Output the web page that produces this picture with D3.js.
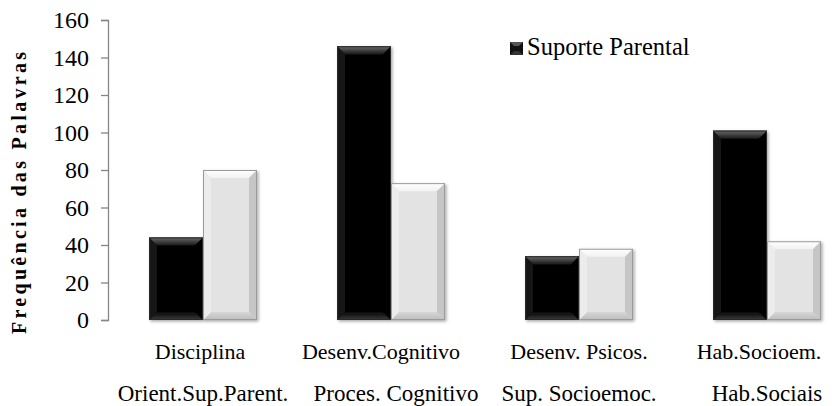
<!DOCTYPE html>
<html>
<head>
<meta charset="utf-8">
<script src="https://cdn.jsdelivr.net/npm/d3@7"></script>
<style>
  html, body { margin: 0; padding: 0; background: #fff; }
  svg { display: block; }
  svg text { font-family: "Liberation Serif", Tinos, "Times New Roman", Times, "Nimbus Roman", "DejaVu Serif", serif; fill: #000; }
</style>
</head>
<body>
<svg id="chart" width="837" height="406"></svg>
<script>
// ---- data ----
const categories = ["Disciplina", "Desenv.Cognitivo", "Desenv. Psicos.", "Hab.Socioem."];
const categoriesLine2 = ["Orient.Sup.Parent.", "Proces. Cognitivo", "Sup. Socioemoc.", "Hab.Sociais"];
const seriesNames = ["Suporte Parental", "Série 2"];
const suporteParental = [44, 146, 34, 101];
const serie2 = [80, 73, 38, 42];
const yTicks = [0, 20, 40, 60, 80, 100, 120, 140, 160];
const yTitle = "Frequência das Palavras";

// ---- layout ----
const plot = { left: 109, right: 861, top: 20, bottom: 320 };
// small horizontal nudges of each label row relative to the group centre (layout only)
const labelShift1 = [-3, -10, 0, -8];
const labelShift2 = [0, 5, 0, 0];
const svg = d3.select("#chart");

const defs = svg.append("defs");
const shadow = defs.append("filter").attr("id", "shadow")
  .attr("x", "-20%").attr("y", "-20%").attr("width", "140%").attr("height", "140%");
shadow.append("feDropShadow").attr("dx", 1.5).attr("dy", 1.5).attr("stdDeviation", 1.5)
  .attr("flood-color", "#000").attr("flood-opacity", 0.35);

function grad(id, c1, c2) {
  const g = defs.append("linearGradient").attr("id", id).attr("x1", 0).attr("y1", 0).attr("x2", 0).attr("y2", 1);
  g.append("stop").attr("offset", "0%").attr("stop-color", c1);
  g.append("stop").attr("offset", "100%").attr("stop-color", c2);
}
grad("blackTop", "#6a6a6a", "#1a1a1a");
grad("blackBot", "#0a0a0a", "#3a3a3a");
grad("whiteTop", "#ffffff", "#f2f2f2");
grad("whiteBot", "#d6d6d6", "#bdbdbd");

const styles = [
  { fill: "#060606", top: "url(#blackTop)", bottom: "url(#blackBot)", left: "#141414", right: "#020202", stroke: "#2a2a2a" },
  { fill: "#e3e3e3", top: "url(#whiteTop)", bottom: "url(#whiteBot)", left: "#ececec", right: "#c6c6c6", stroke: "#9a9a9a" }
];

// ---- scales ----
const x0 = d3.scaleBand().domain(categories).range([plot.left, plot.right])
  .paddingInner(0.4255).paddingOuter(0.4255 / 2);
const x1 = d3.scaleBand().domain(seriesNames).range([0, x0.bandwidth()]).padding(0);
const y = d3.scaleLinear().domain([0, 160]).range([plot.bottom, plot.top]);

// ---- y axis ----
const yAxis = d3.axisLeft(y).tickValues(yTicks).tickSize(7).tickPadding(12).tickFormat(d3.format("d"));
const gy = svg.append("g").attr("transform", `translate(${plot.left - 1},0)`).call(yAxis);
gy.attr("font-family", null).attr("font-size", null);
gy.select(".domain").attr("stroke", "#868686").attr("stroke-width", 1.3);
gy.selectAll(".tick line").attr("stroke", "#868686").attr("stroke-width", 1.3);
gy.selectAll(".tick text").style("font-size", "24px").attr("fill", "#000");

// y title
svg.append("text")
  .attr("transform", `translate(26, ${(52 + 334) / 2}) rotate(-90)`)
  .attr("text-anchor", "middle")
  .style("font-weight", "bold")
  .style("font-size", "20px")
  .attr("textLength", 282)
  .attr("lengthAdjust", "spacing")
  .text(yTitle);

// ---- bars ----
const data = categories.map((c, i) => ({ cat: c, values: [suporteParental[i], serie2[i]] }));
const bev = 8;
const groups = svg.append("g").selectAll("g").data(data).join("g")
  .attr("transform", d => `translate(${x0(d.cat)},0)`);

groups.each(function(d) {
  const g = d3.select(this);
  d.values.forEach((v, si) => {
    const st = styles[si];
    const bx = x1(seriesNames[si]);
    const bw = x1.bandwidth();
    const by = y(v);
    const bh = y(0) - y(v);
    const b = g.append("g").attr("filter", "url(#shadow)");
    b.append("rect").attr("x", bx).attr("y", by).attr("width", bw).attr("height", bh).attr("fill", st.fill);
    const xL = bx, xR = bx + bw, yT = by, yB = by + bh;
    const e = Math.min(bev, bh / 2, bw / 2);
    const poly = pts => pts.map(p => p.join(",")).join(" ");
    b.append("polygon").attr("points", poly([[xL, yT], [xR, yT], [xR - e, yT + e], [xL + e, yT + e]])).attr("fill", st.top);
    b.append("polygon").attr("points", poly([[xL, yB], [xR, yB], [xR - e, yB - e], [xL + e, yB - e]])).attr("fill", st.bottom);
    b.append("polygon").attr("points", poly([[xL, yT], [xL + e, yT + e], [xL + e, yB - e], [xL, yB]])).attr("fill", st.left);
    b.append("polygon").attr("points", poly([[xR, yT], [xR - e, yT + e], [xR - e, yB - e], [xR, yB]])).attr("fill", st.right);
    b.append("rect").attr("x", xL + 0.5).attr("y", yT + 0.5).attr("width", bw - 1).attr("height", bh - 1)
      .attr("fill", "none").attr("stroke", st.stroke).attr("stroke-width", 1);
  });
});

// ---- x labels (two rows) ----
const xl = svg.append("g");
xl.selectAll("text.r1").data(categories).join("text").attr("class", "r1")
  .attr("x", (d, i) => x0(d) + x0.bandwidth() / 2 + labelShift1[i]).attr("y", 359)
  .attr("text-anchor", "middle").style("font-size", "22px").text(d => d);
xl.selectAll("text.r2").data(categoriesLine2).join("text").attr("class", "r2")
  .attr("x", (d, i) => x0(categories[i]) + x0.bandwidth() / 2 + labelShift2[i]).attr("y", 401)
  .attr("text-anchor", "middle").style("font-size", "23px").text(d => d);

// ---- legend ----
const lg = svg.append("g").attr("transform", "translate(510,42)");
lg.append("rect").attr("width", 13).attr("height", 13).attr("fill", "#111");
lg.append("polygon").attr("points", "0,0 13,0 9,4 4,4").attr("fill", "#555");
lg.append("polygon").attr("points", "0,13 13,13 9,9 4,9").attr("fill", "#333");
lg.append("text").attr("x", 17).attr("y", 13).style("font-size", "24.5px").text(seriesNames[0]);
</script>
</body>
</html>
